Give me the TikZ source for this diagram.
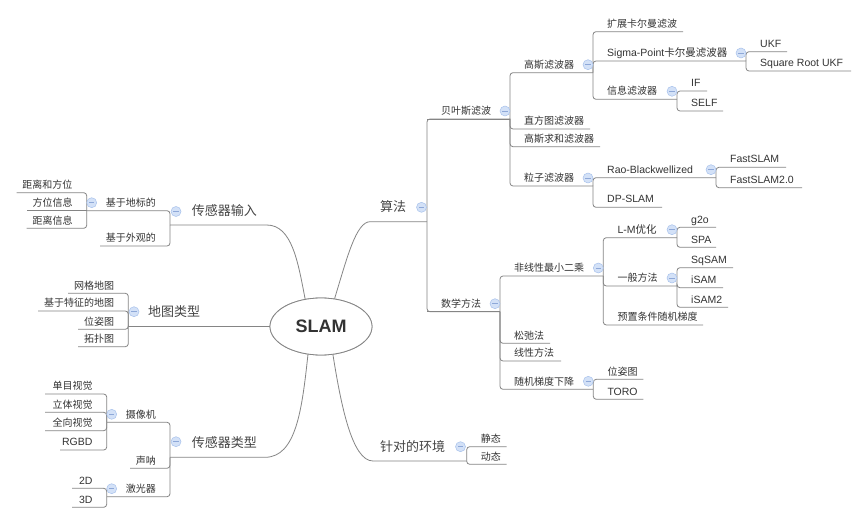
\documentclass[tikz,border=0pt]{standalone}
\usepackage{fontspec}
\setmainfont{Liberation Sans}
\newfontfamily\cjk{Noto Sans CJK SC}
\usetikzlibrary{shapes.geometric,calc}
\definecolor{lc}{HTML}{858585}
\definecolor{txt}{HTML}{333333}
\definecolor{txtb}{HTML}{454545}
\definecolor{icf}{HTML}{D3E1F7}
\definecolor{icd}{HTML}{A8C2EC}
\definecolor{icm}{HTML}{8EA8D8}
\tikzset{
  conn/.style={draw=lc, line width=0.8pt, rounded corners=3pt},
  curv/.style={draw=lc, line width=0.8pt},
  sm/.style={font=\cjk\fontsize{10}{12}\selectfont, text=txt, inner sep=0pt},
  la/.style={font=\fontsize{10.5}{12}\selectfont, text=txt, inner sep=0pt},
  bg/.style={font=\cjk\fontsize{13}{15}\selectfont, text=txtb, inner sep=0pt},
  icon/.style={circle, draw=icd, fill=icf, line width=0.5pt, minimum size=10pt, inner sep=0pt,
    path picture={\draw[icm, line width=0.6pt] ([xshift=-2.6pt]path picture bounding box.center) -- ([xshift=2.6pt]path picture bounding box.center);}},
  centre/.style={ellipse, draw=lc, line width=0.8pt, fill=white, minimum width=102pt, minimum height=57pt,
    inner sep=0pt, font=\bfseries\fontsize{18}{20}\selectfont, text=txt}
}
% right-side topic: name, style, attach x, free x, y, text
\newcommand\RT[6]{%
  \coordinate (#1-a) at (#3,-#5);
  \coordinate (#1-b) at (#4,-#5);
  \node[#2, anchor=base west] (#1) at (#3+14,-#5+4.3) {#6};}
% left-side topic
\newcommand\LT[6]{%
  \coordinate (#1-a) at (#3,-#5);
  \coordinate (#1-b) at (#4,-#5);
  \node[#2, anchor=base east] (#1) at (#3-14,-#5+4.3) {#6};}
\newcommand\icR[1]{\node[icon] (#1-i) at ($(#1-b)+(-5,8)$) {};}
\newcommand\icL[1]{\node[icon] (#1-i) at ($(#1-b)+(5,8)$) {};}
\begin{document}
\begin{tikzpicture}[x=1pt,y=1pt]
\fill[white] (0,0) rectangle (868,-524);
\useasboundingbox (0,0) rectangle (868,-524);

% centre
\node[centre] (slam) at (321,-326.5) {SLAM};

% ---------- right side ----------
\coordinate (sf-a) at (370,-221.7);
\coordinate (sf-b) at (427,-221.7);
\node[bg, anchor=base west] (sf) at (380,-211.6) {算法};

\RT{bys}{sm}{427}{510}{119}{贝叶斯滤波}
\RT{gs}{sm}{510}{593}{72.7}{高斯滤波器}
\RT{ekf}{sm}{593}{683}{31.7}{扩展卡尔曼滤波}
\RT{spk}{la}{593}{746}{61}{Sigma-Point{\cjk 卡尔曼滤波器}}
\RT{ukf}{la}{746}{787}{51.7}{UKF}
\RT{sru}{la}{746}{851}{71}{Square Root UKF}
\RT{xx}{sm}{593}{677}{99.3}{信息滤波器}
\RT{iff}{la}{677}{707}{91}{IF}
\RT{self}{la}{677}{723}{111}{SELF}
\RT{zft}{sm}{510}{590}{129}{直方图滤波器}
\RT{gsq}{sm}{510}{600}{146.7}{高斯求和滤波器}
\RT{lz}{sm}{510}{593}{186}{粒子滤波器}
\RT{rb}{la}{593}{716}{177.7}{Rao-Blackwellized}
\RT{fs}{la}{716}{786}{167.3}{FastSLAM}
\RT{fsb}{la}{716}{802}{187.7}{FastSLAM2.0}
\RT{dp}{la}{593}{662}{207.3}{DP-SLAM}
\RT{sx}{sm}{427}{500}{311.7}{数学方法}
\RT{fx}{sm}{500}{603.3}{276}{非线性最小二乘}
\RT{lm}{la}{603.3}{677}{237.7}{L-M{\cjk 优化}}
\RT{gto}{la}{677}{716}{227.3}{g2o}
\RT{spa}{la}{677}{716}{247.3}{SPA}
\RT{yb}{sm}{603.3}{677}{286}{一般方法}
\RT{sq}{la}{677}{733}{267.7}{SqSAM}
\RT{isa}{la}{677}{723}{287.7}{iSAM}
\RT{isb}{la}{677}{728}{307.3}{iSAM2}
\RT{yz}{sm}{603.3}{703}{325}{预置条件随机梯度}
\RT{sc}{sm}{500}{550}{343.3}{松弛法}
\RT{xf}{sm}{500}{561}{361}{线性方法}
\RT{sj}{sm}{500}{593.3}{389.3}{随机梯度下降}
\RT{wz}{sm}{593.3}{643.3}{379.3}{位姿图}
\RT{toro}{la}{593.3}{643.3}{399.3}{TORO}

\coordinate (hj-a) at (373,-461);
\coordinate (hj-b) at (466.7,-461);
\node[bg, anchor=base west] (hj) at (380,-451) {针对的环境};
\RT{jt}{sm}{466.7}{506.7}{446.7}{静态}
\RT{dt}{sm}{466.7}{506.7}{464.3}{动态}

% ---------- left side ----------
\coordinate (cgsr-a) at (266.7,-225);
\coordinate (cgsr-b) at (170,-225);
\node[bg, anchor=base west] (cgsr) at (191.7,-215.5) {传感器输入};
\LT{dbd}{sm}{170}{86.7}{210.7}{基于地标的}
\LT{jlfw}{sm}{86.7}{16.7}{192.7}{距离和方位}
\LT{fwxx}{sm}{86.7}{26.7}{210.7}{方位信息}
\LT{jlxx}{sm}{86.7}{26.7}{228.3}{距离信息}
\LT{wg}{sm}{170}{100}{246}{基于外观的}

\coordinate (dtlx-a) at (slam.west);
\coordinate (dtlx-b) at (128.3,-326.5);
\node[bg, anchor=base west] (dtlx) at (148,-316.2) {地图类型};
\LT{wgdt}{sm}{128.3}{68}{293.3}{网格地图}
\LT{tzdt}{sm}{128.3}{38}{311}{基于特征的地图}
\LT{wzt}{sm}{128.3}{78}{329.3}{位姿图}
\LT{tpt}{sm}{128.3}{78}{346.7}{拓扑图}

\coordinate (cglx-a) at (265,-457.3);
\coordinate (cglx-b) at (170,-457.3);
\node[bg, anchor=base west] (cglx) at (191.7,-447) {传感器类型};
\LT{sxj}{sm}{170}{106.7}{422.3}{摄像机}
\LT{dm}{sm}{106.7}{45}{394}{单目视觉}
\LT{lt}{sm}{106.7}{45}{412.3}{立体视觉}
\LT{qx}{sm}{106.7}{45}{430.7}{全向视觉}
\LT{rgbd}{la}{106.7}{60}{450}{RGBD}
\LT{sn}{sm}{170}{130}{468.3}{声呐}
\LT{jgq}{sm}{170}{106.7}{496.7}{激光器}
\LT{twod}{la}{106.7}{72}{488.3}{2D}
\LT{thd}{la}{106.7}{72}{507.3}{3D}

% ---------- connectors ----------
\draw[curv] (slam.64) .. controls (347,-258) and (356,-222) .. (sf-a) -- (sf-b);
\draw[curv] (slam.-67) .. controls (341,-405) and (352,-461) .. (hj-a) -- (hj-b);
\draw[curv] (slam.120) .. controls (298,-262) and (292,-225) .. (cgsr-a) -- (cgsr-b);
\draw[curv] (slam.245) .. controls (302,-410) and (296,-457.3) .. (cglx-a) -- (cglx-b);
\draw[curv] (dtlx-a) -- (dtlx-b);

\foreach \p/\c in {sf/bys, sf/sx, bys/gs, bys/zft, bys/gsq, bys/lz, gs/ekf, gs/spk, gs/xx,
  spk/ukf, spk/sru, xx/iff, xx/self, lz/rb, lz/dp, rb/fs, rb/fsb,
  sx/fx, sx/sc, sx/xf, sx/sj, fx/lm, fx/yb, fx/yz, lm/gto, lm/spa, yb/sq, yb/isa, yb/isb,
  sj/wz, sj/toro, hj/jt, hj/dt,
  cgsr/dbd, cgsr/wg, dbd/jlfw, dbd/jlxx, dtlx/wgdt, dtlx/tzdt, dtlx/wzt, dtlx/tpt,
  cglx/sxj, cglx/sn, cglx/jgq, sxj/dm, sxj/lt, sxj/qx, sxj/rgbd, jgq/twod, jgq/thd}
  {\draw[conn] (\p-b) -- (\c-a) -- (\c-b);}
\draw[conn] (fwxx-a) -- (fwxx-b);
\draw[conn] (bys-a) -- (bys-b);
\draw[conn] (sx-a) -- (sx-b);

% centre drawn again over the curve ends
\node[centre] at (slam) {SLAM};

% collapse icons
\icR{bys}\icR{gs}\icR{spk}\icR{xx}\icR{lz}\icR{rb}\icR{sx}\icR{fx}\icR{lm}\icR{yb}\icR{sj}
\icL{dbd}\icL{sxj}\icL{jgq}
\node[icon] (sf-i) at (421.5,-207.3) {};
\node[icon] (hj-i) at (460.5,-446.7) {};
\node[icon] (cgsr-i) at (176,-211.5) {};
\node[icon] (dtlx-i) at (134,-311.7) {};
\node[icon] (cglx-i) at (176,-441.7) {};
\end{tikzpicture}
\end{document}
